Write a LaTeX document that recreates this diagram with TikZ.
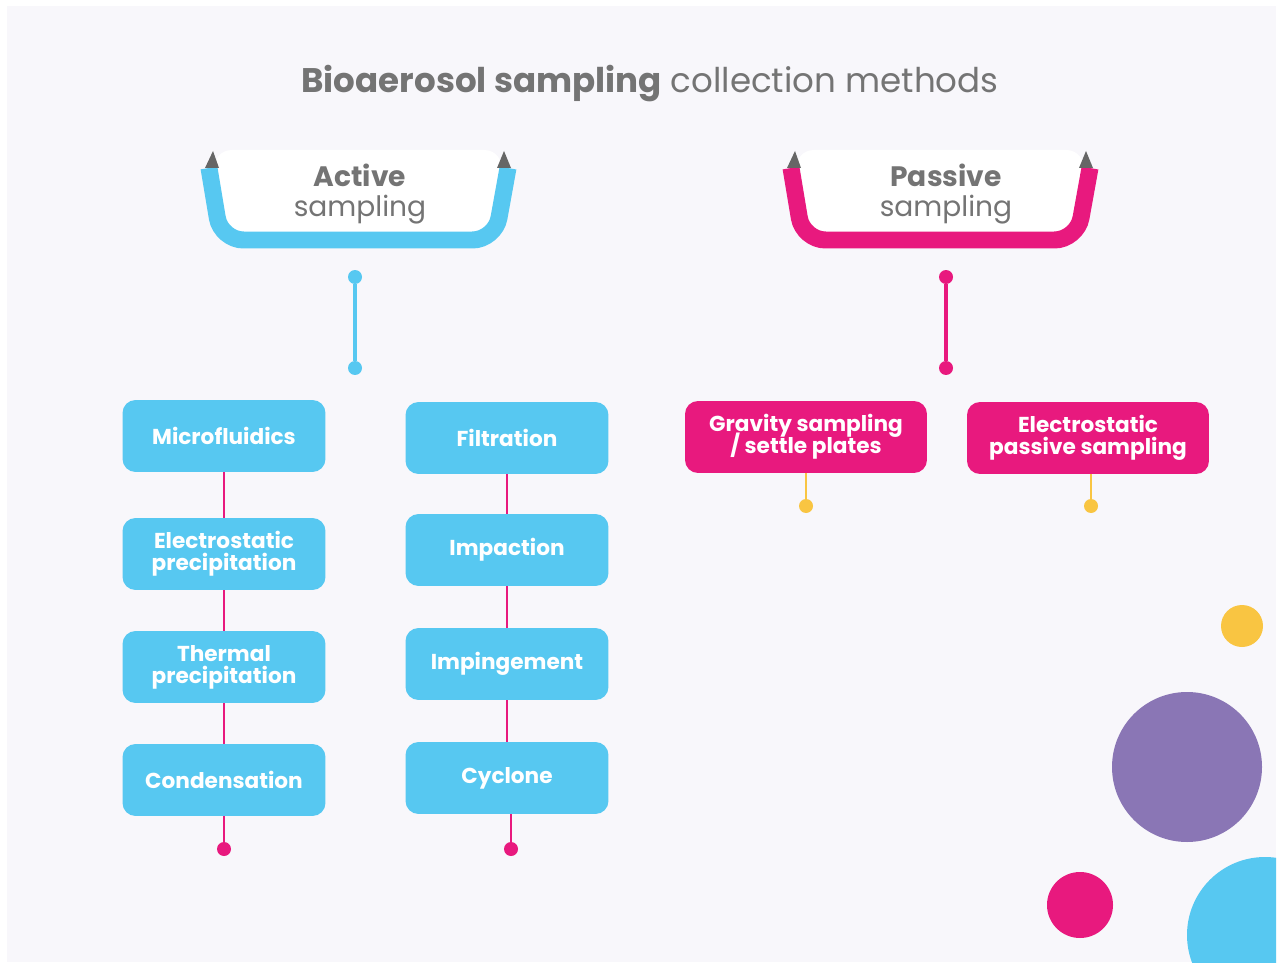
\documentclass[tikz,border=0pt]{standalone}
\usepackage{fontspec}
\setmainfont{Poppins}
\usetikzlibrary{positioning}

\definecolor{actBlue}{HTML}{57C8F1}
\definecolor{pasPink}{HTML}{E8197E}
\definecolor{sunYellow}{HTML}{F9C542}
\definecolor{plum}{HTML}{8A76B5}
\definecolor{paper}{HTML}{F8F7FB}
\definecolor{inkGray}{HTML}{747474}

\begin{document}
\begin{tikzpicture}[x=0.02cm, y=-0.02cm]
	\tikzset{method/.style = {shape=rectangle, rounded corners=0.26cm,
			fill=actBlue, text=white, align=center,
			font={\bfseries\fontsize{12.3}{12.6}\selectfont\setlength{\lineskiplimit}{-20pt}},
			minimum width=4.06cm, minimum height=1.44cm, inner sep=0pt}}
	\tikzset{passive/.style = {method, fill=pasPink, minimum width=4.84cm}}
	\tikzset{dot/.style = {shape=circle, fill, minimum size=0.28cm, inner sep=0pt}}
	\tikzset{link/.style = {line width=2.2pt}}
	\tikzset{chain/.style = {line width=1.6pt, pasPink}}
	\tikzset{bucketLbl/.style = {text=inkGray, align=center,
			font=\fontsize{16}{17}\selectfont}}
	\tikzset{bucket/.pic = {
			\fill[white, rounded corners=0.4cm] (-146,0) -- (146,0)
			-- (133,86) -- (-133,86) -- cycle;
			\draw[pic actions, line width=0.34cm, rounded corners=0.45cm]
			(-149,18) -- (-137,90) -- (137,90) -- (150,18);
			\fill[gray!80!black] (-153,18) -- (-139,18) -- (-145,1) -- cycle;
			\fill[gray!80!black] (139,18) -- (153,18) -- (146,1) -- cycle;
	}}
	
	% background
	\fill[white] (0,0) rectangle (1278,966);
	\fill[paper] (7,6) rectangle (1276,962);
	\useasboundingbox (0,0) rectangle (1278,966);
	
	\node[text=inkGray, font=\fontsize{19.4}{21}\selectfont] (ttl) at (650,84)
	{\textbf{Bioaerosol sampling} collection methods};
	
	% buckets
	\pic[draw=actBlue] at (358,150) {bucket};
	\pic[draw=pasPink] at (940,150) {bucket};
	\node[bucketLbl] (act) at (360,194) {\textbf{Active}\\sampling};
	\node[bucketLbl] (pas) at (946,194) {\textbf{Passive}\\sampling};
	
	% vertices
	\node[dot, actBlue] (a1) at (355,277) {};
	\node[dot, actBlue] (a2) at (355,368) {};
	\node[dot, pasPink] (p1) at (946,277) {};
	\node[dot, pasPink] (p2) at (946,368) {};
	
	\node[method] (micro) at (224,436) {Microfluidics};
	\node[method] (elec) at (224,554) {Electrostatic\\precipitation};
	\node[method] (therm) at (224,667) {Thermal\\precipitation};
	\node[method] (cond) at (224,780) {Condensation};
	\node[dot, pasPink] (lend) at (224,849) {};
	
	\node[method] (filt) at (507,438) {Filtration};
	\node[method] (impa) at (507,550) {Impaction};
	\node[method] (impi) at (507,664) {Impingement};
	\node[method] (cycl) at (507,778) {Cyclone};
	\node[dot, pasPink] (rend) at (511,849) {};
	
	\node[passive] (grav) at (806,437) {Gravity sampling\\/ settle plates};
	\node[passive] (epas) at (1088,438) {Electrostatic\\passive sampling};
	\node[dot, sunYellow] (g1) at (806,506) {};
	\node[dot, sunYellow] (e1) at (1091,506) {};
	
	%edges
	\draw[link, actBlue] (a1) -- (a2);
	\draw[link, pasPink] (p1) -- (p2);
	
	\draw[chain] (micro) -- (elec);
	\draw[chain] (elec) -- (therm);
	\draw[chain] (therm) -- (cond);
	\draw[chain] (cond) -- (lend);
	\draw[chain] (filt) -- (impa);
	\draw[chain] (impa) -- (impi);
	\draw[chain] (impi) -- (cycl);
	\draw[chain] (cycl.south -| rend) -- (rend);
	
	\draw[chain, sunYellow] (grav) -- (g1);
	\draw[chain, sunYellow] (epas.south -| e1) -- (e1);
	
	% bubbles
	\begin{scope}
		\clip (7,6) rectangle (1276,962);
		\fill[sunYellow] (1242,626) circle (21);
		\fill[plum] (1187,767) circle (75);
		\fill[pasPink] (1080,905) circle (33);
		\fill[actBlue] (1265,935) circle (78);
	\end{scope}
	
\end{tikzpicture}
\end{document}
